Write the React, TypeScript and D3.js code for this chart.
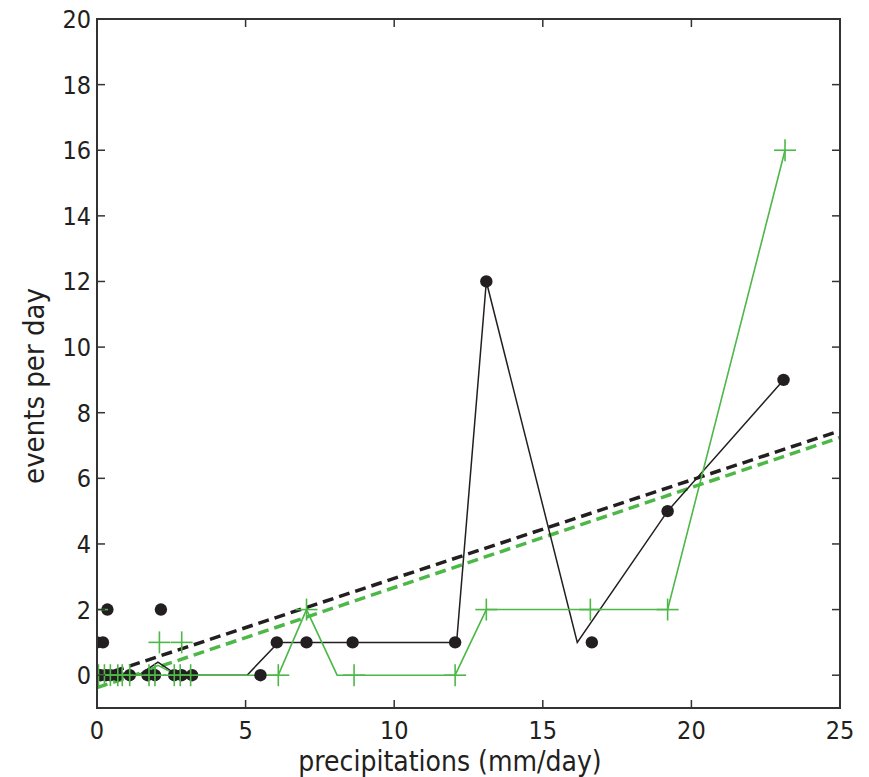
import React from "react";
import * as d3 from "d3";

const xTicks = [0, 5, 10, 15, 20, 25];
const yTicks = [0, 2, 4, 6, 8, 10, 12, 14, 16, 18, 20];

// black series: observed points (dots)
const blackDotX = [0, 0.12, 0.3, 0.45, 0.7, 1.1, 1.7, 1.95, 2.6, 2.85, 3.2, 5.5, 0, 0.2, 6.05, 7.05, 8.6, 12.05, 16.65, 0.35, 2.15, 13.1, 19.2, 23.1];
const blackDotY = [0, 0, 0, 0, 0, 0, 0, 0, 0, 0, 0, 0, 1, 1, 1, 1, 1, 1, 1, 2, 2, 12, 5, 9];
// black series: solid line
const blackLineX = [0, 1.4, 2.05, 2.7, 5.05, 6.1, 12.1, 13.1, 16.16, 19.2, 23.1];
const blackLineY = [0, 0, 0.4, 0, 0, 1, 1, 12, 1, 5, 9];

// green series: crosses
const greenCrossX = [0.05, 0.25, 0.45, 0.7, 0.85, 1.1, 1.75, 1.95, 2.6, 2.8, 3.15, 6.1, 8.65, 12.05, 2.1, 2.85, 0, 7.05, 13.1, 16.6, 19.2, 23.15];
const greenCrossY = [0, 0, 0, 0, 0, 0, 0, 0, 0, 0, 0, 0, 0, 0, 1, 1, 2, 2, 2, 2, 2, 16];
// green series: solid line
const greenLineX = [0, 1.4, 2.05, 2.7, 6.1, 7.05, 8.08, 12.05, 13.1, 16.6, 19.2, 23.15];
const greenLineY = [0, 0, 0.3, 0, 0, 2, 0, 0, 2, 2, 2, 16];

// linear fits (intercept, slope)
const blackFit = [-0.05, 0.3];
const greenFit = [-0.38, 0.305];
const fitRange = [0, 25];

const BLACK = "#231f20";
const GREEN = "#4db848";
const FONT = "'Liberation Sans Narrow', 'DejaVu Sans Condensed', 'Liberation Sans', sans-serif";

export default function App() {
  const W = 869, H = 777;
  const L = 97, R = 840, T = 19, B = 708;
  const x = d3.scaleLinear().domain([0, 25]).range([L, R]);
  const y = d3.scaleLinear().domain([-1, 20]).range([B, T]);

  const line = d3.line<[number, number]>().x(d => x(d[0])).y(d => y(d[1]));
  const blackPts: [number, number][] = blackLineX.map((v, i) => [v, blackLineY[i]]);
  const greenPts: [number, number][] = greenLineX.map((v, i) => [v, greenLineY[i]]);
  const fitPts = (f: number[]): [number, number][] => fitRange.map(v => [v, f[0] + f[1] * v]);

  const tick = 8;
  const cs = 11;

  return (
    <svg width={W} height={H} style={{ position: "absolute", left: 0, top: 0, background: "#fff" }}>
      <defs>
        <clipPath id="plot">
          <rect x={L} y={T} width={R - L} height={B - T} />
        </clipPath>
      </defs>
      <g clipPath="url(#plot)">
        <path d={line(fitPts(greenFit)) || ""} fill="none" stroke={GREEN} strokeWidth={3.5} strokeDasharray="11,6" />
        <path d={line(fitPts(blackFit)) || ""} fill="none" stroke={BLACK} strokeWidth={3.5} strokeDasharray="11,6" />
        <path d={line(blackPts) || ""} fill="none" stroke={BLACK} strokeWidth={1.5} />
        <path d={line(greenPts) || ""} fill="none" stroke={GREEN} strokeWidth={1.6} />
        {blackDotX.map((v, i) => (
          <circle key={"b" + i} cx={x(v)} cy={y(blackDotY[i])} r={6.2} fill={BLACK} />
        ))}
        {greenCrossX.map((v, i) => {
          const cx = x(v), cy = y(greenCrossY[i]);
          return (
            <g key={"g" + i} stroke={GREEN} strokeWidth={1.6}>
              <line x1={cx - cs} x2={cx + cs} y1={cy} y2={cy} />
              <line x1={cx} x2={cx} y1={cy - cs} y2={cy + cs} />
            </g>
          );
        })}
      </g>
      {/* frame */}
      <rect x={L} y={T} width={R - L} height={B - T} fill="none" stroke="#333" strokeWidth={2} />
      {xTicks.map(t => (
        <g key={"xt" + t}>
          <line x1={x(t)} x2={x(t)} y1={B} y2={B - tick} stroke="#333" strokeWidth={1.5} />
          <line x1={x(t)} x2={x(t)} y1={T} y2={T + tick} stroke="#333" strokeWidth={1.5} />
          <text x={x(t)} y={B + 31} textAnchor="middle" fontFamily={FONT} fontSize={25} fill="#231f20">{t}</text>
        </g>
      ))}
      {yTicks.map(t => (
        <g key={"yt" + t}>
          <line x1={L} x2={L + tick} y1={y(t)} y2={y(t)} stroke="#333" strokeWidth={1.5} />
          <line x1={R} x2={R - tick} y1={y(t)} y2={y(t)} stroke="#333" strokeWidth={1.5} />
          <text x={L - 6} y={y(t) + 9} textAnchor="end" fontFamily={FONT} fontSize={25} fill="#231f20">{t}</text>
        </g>
      ))}
      <text x={450} y={771} textAnchor="middle" fontFamily={FONT} fontSize={28} fill="#231f20">precipitations (mm/day)</text>
      <text transform={`translate(44, 386) rotate(-90)`} textAnchor="middle" fontFamily={FONT} fontSize={29} fill="#231f20">events per day</text>
    </svg>
  );
}
